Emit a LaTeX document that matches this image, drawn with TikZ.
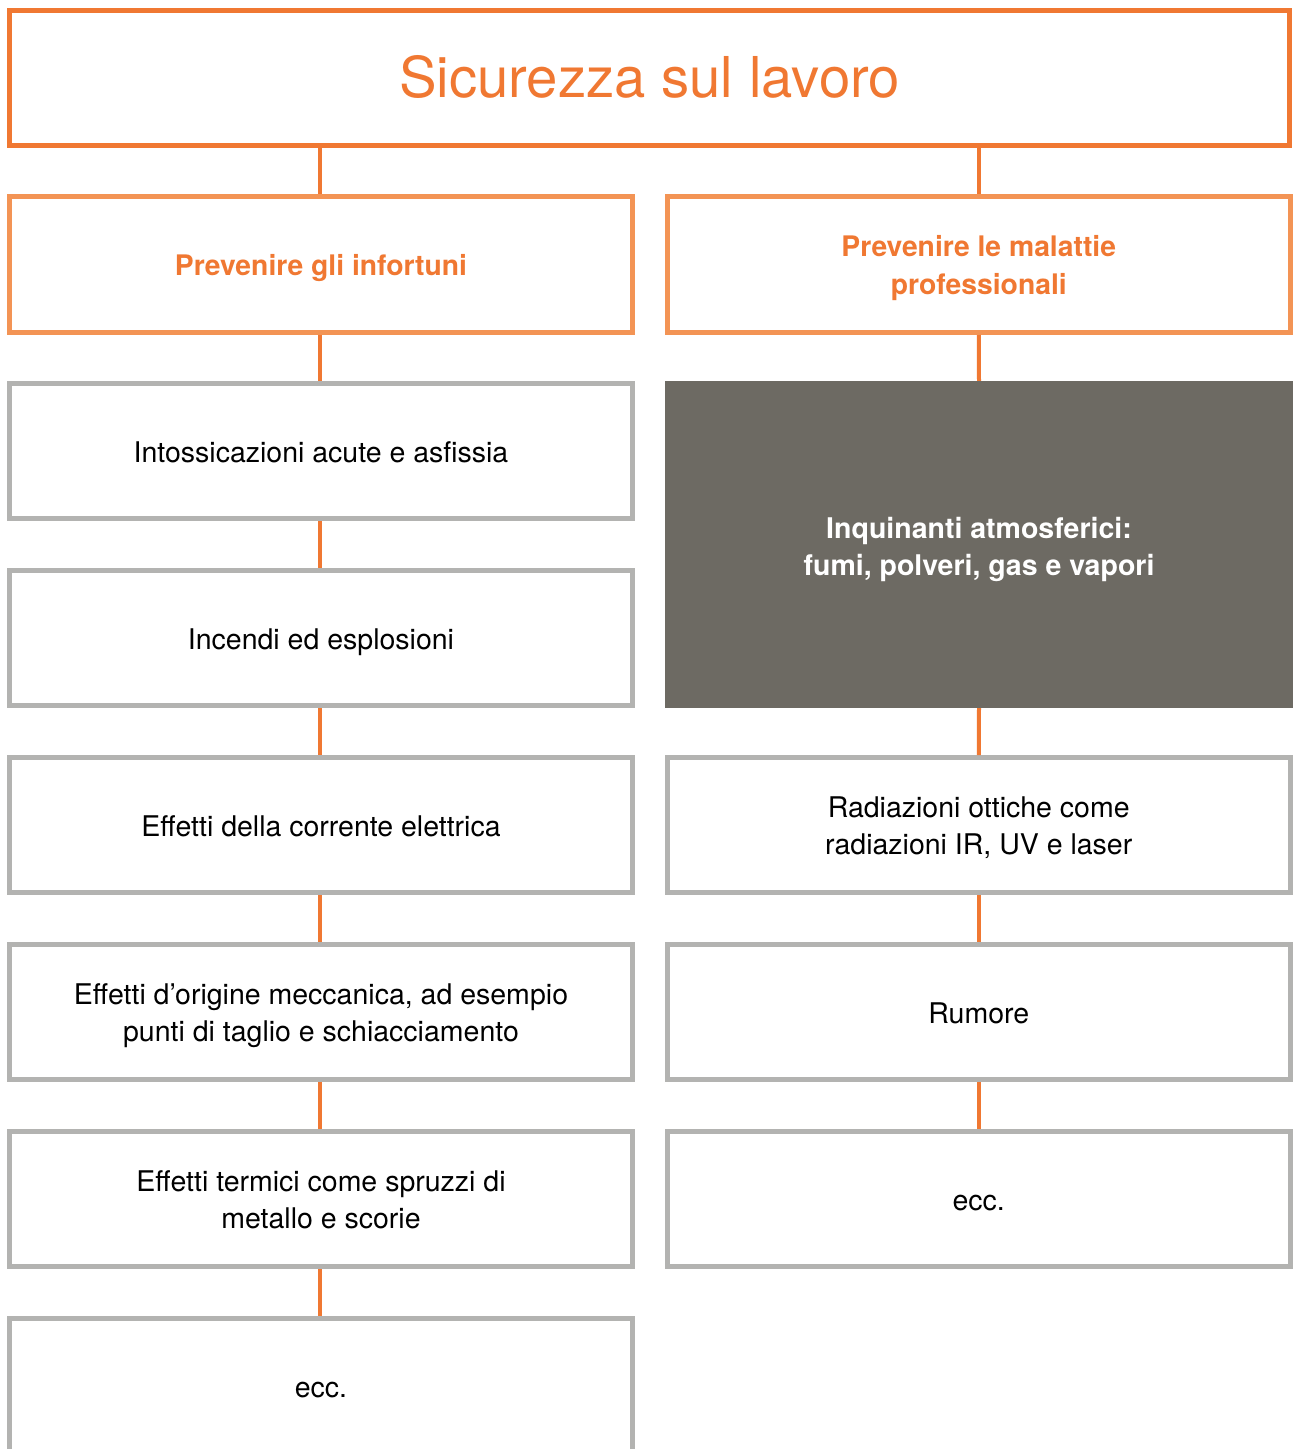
\documentclass[tikz,border=0pt]{standalone}
\usepackage{fontspec}
\setmainfont{TeX Gyre Heros}
\definecolor{orangeA}{HTML}{F07832}
\definecolor{orangeB}{HTML}{F39455}
\definecolor{grayB}{HTML}{B3B3B1}
\definecolor{darkF}{HTML}{6D6A63}
% vertical struts: first-line height / last-line depth
\newcommand\myGT{\rule{0pt}{30.5pt}}
\newcommand\myGB{\rule[-8pt]{0pt}{8pt}}
\newcommand\myHT{\rule{0pt}{30.4pt}}
\newcommand\myHB{\rule[-8pt]{0pt}{8pt}}
\newcommand\myDT{\rule{0pt}{32.4pt}}
\newcommand\myDB{\rule[-8pt]{0pt}{8pt}}
\newcommand\myTT{\rule{0pt}{48pt}}
\newcommand\myTB{\rule[-8pt]{0pt}{8pt}}
\begin{document}
\begin{tikzpicture}[x=1pt,y=-1pt,
  box/.style={draw=grayB, line width=5pt, fill=white, inner sep=0pt, minimum height=135pt,
    align=center, font=\fontsize{28.5}{37}\selectfont, text=black},
  lbox/.style={box, minimum width=623pt},
  rbox/.style={box, minimum width=622.5pt},
  headbox/.style={draw=orangeB, line width=5pt, fill=white, inner sep=0pt, minimum height=136pt,
    align=center, font=\fontsize{28.3}{38}\selectfont\bfseries, text=orangeA},
  link/.style={draw=orangeA, line width=4pt}
]
\clip (0,0) rectangle (1293,1449);
\useasboundingbox (0,0) rectangle (1293,1449);

% title
\node[draw=orangeA, line width=5pt, inner sep=0pt, minimum width=1280pt, minimum height=135pt,
  font=\fontsize{56.3}{60}\selectfont, text=orangeA] (title) at (649.6,77.5) {\myTT Sicurezza sul lavoro\myTB};

% level 2
\node[headbox, minimum width=623pt] (h1) at (321,264.5) {\myHT Prevenire gli infortuni\myHB};
\node[headbox, minimum width=622.5pt] (h2) at (978.75,264.5) {\myHT Prevenire le malattie\\professionali\myHB};

% left column
\node[lbox] (l1) at (321,451) {\myGT Intossicazioni acute e asfissia\myGB};
\node[lbox] (l2) at (321,638) {\myGT Incendi ed esplosioni\myGB};
\node[lbox] (l3) at (321,825) {\myGT Effetti della corrente elettrica\myGB};
\node[lbox] (l4) at (321,1012) {\myGT Effetti d’origine meccanica, ad esempio\\punti di taglio e schiacciamento\myGB};
\node[lbox] (l5) at (321,1199) {\myGT Effetti termici come spruzzi di\\metallo e scorie\myGB};
\node[lbox] (l6) at (321,1386) {\myGT ecc.\myGB};

% right column
\node[fill=darkF, inner sep=0pt, minimum width=628pt, minimum height=327pt, align=center,
  font=\fontsize{28.5}{37}\selectfont\bfseries, text=white] (r1) at (979,544.5)
  {\myDT Inquinanti atmosferici:\\fumi, polveri, gas e vapori\myDB};
\node[rbox] (r2) at (978.75,825) {\myGT Radiazioni ottiche come\\radiazioni IR, UV e laser\myGB};
\node[rbox] (r3) at (978.75,1012) {\myGT Rumore\myGB};
\node[rbox] (r4) at (978.75,1199) {\myGT ecc.\myGB};

% connectors
\draw[link] ([xshift=-1pt]h1.north |- title.south) -- ([xshift=-1pt]h1.north);
\draw[link] (h2.north |- title.south) -- (h2.north);
\foreach \a/\b in {h1/l1,l1/l2,l2/l3,l3/l4,l4/l5,l5/l6}
  \draw[link] ([xshift=-1pt]\a.south) -- ([xshift=-1pt]\b.north);
\foreach \a/\b in {h2/r1,r1/r2,r2/r3,r3/r4}
  \draw[link] (\a.south) -- (\b.north);
\end{tikzpicture}
\end{document}
